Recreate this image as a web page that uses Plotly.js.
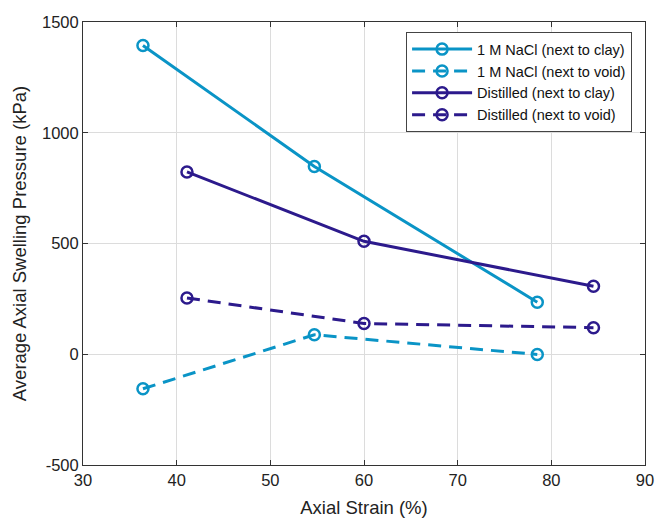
<!DOCTYPE html>
<html>
<head>
<meta charset="utf-8">
<script src="https://cdn.plot.ly/plotly-3.0.1.min.js"></script>
<style>html,body{margin:0;padding:0;background:#fff;}#chart{width:655px;height:520px;}</style>
</head>
<body>
<div id="chart"></div>
<script>
const seriesNames = ["1 M NaCl (next to clay)", "1 M NaCl (next to void)", "Distilled (next to clay)", "Distilled (next to void)"];
const naclClayX = [36.4, 54.7, 78.5];
const naclClayY = [1394, 848, 235];
const naclVoidX = [36.4, 54.7, 78.5];
const naclVoidY = [-156, 88, -1];
const distClayX = [41.1, 60.0, 84.5];
const distClayY = [823, 510, 307];
const distVoidX = [41.1, 60.0, 84.5];
const distVoidY = [254, 139, 120];
const xTicks = [30, 40, 50, 60, 70, 80, 90];
const yTicks = [-500, 0, 500, 1000, 1500];

const cyan = "#0a94c6";
const navy = "#2c1a8c";
const FONT = "Liberation Sans, Arial, sans-serif";

function tr(name, x, y, color, dash) {
  return {
    name: name, x: x, y: y, type: "scatter", mode: "lines+markers",
    line: {color: color, width: 3, dash: dash},
    marker: {symbol: "circle-open", size: 11, color: color, line: {width: 2.5, color: color}}
  };
}
const data = [
  tr(seriesNames[0], naclClayX, naclClayY, cyan, "solid"),
  tr(seriesNames[1], naclVoidX, naclVoidY, cyan, "13px,8px"),
  tr(seriesNames[2], distClayX, distClayY, navy, "solid"),
  tr(seriesNames[3], distVoidX, distVoidY, navy, "13px,8px")
];
const axisCommon = {
  showline: true, mirror: "ticks", linecolor: "#333", linewidth: 1,
  ticks: "inside", ticklen: 5, tickcolor: "#333",
  showgrid: true, gridcolor: "#dcdcdc", gridwidth: 1, zeroline: false,
  tickfont: {family: FONT, size: 16.5, color: "#222"}
};
const layout = {
  width: 655, height: 520,
  margin: {l: 83, r: 10, t: 22, b: 55},
  paper_bgcolor: "#fff", plot_bgcolor: "#fff",
  showlegend: true,
  legend: {
    x: 0.977, y: 0.977, xanchor: "right", yanchor: "top",
    bgcolor: "#fff", bordercolor: "#444", borderwidth: 1,
    font: {family: FONT, size: 14.5, color: "#111"},
    tracegroupgap: 0, itemwidth: 60
  },
  xaxis: Object.assign({}, axisCommon, {
    range: [30, 90], tickvals: xTicks, ticktext: xTicks.map(String),
    title: {text: "Axial Strain (%)", font: {family: FONT, size: 18.5, color: "#222"}, standoff: 13}
  }),
  yaxis: Object.assign({}, axisCommon, {
    range: [-500, 1500], tickvals: yTicks, ticktext: yTicks.map(String),
    title: {text: "Average Axial Swelling Pressure (kPa)", font: {family: FONT, size: 18.5, color: "#222"}, standoff: 10}
  })
};
Plotly.newPlot("chart", data, layout, {displayModeBar: false, staticPlot: true});
</script>
</body>
</html>
